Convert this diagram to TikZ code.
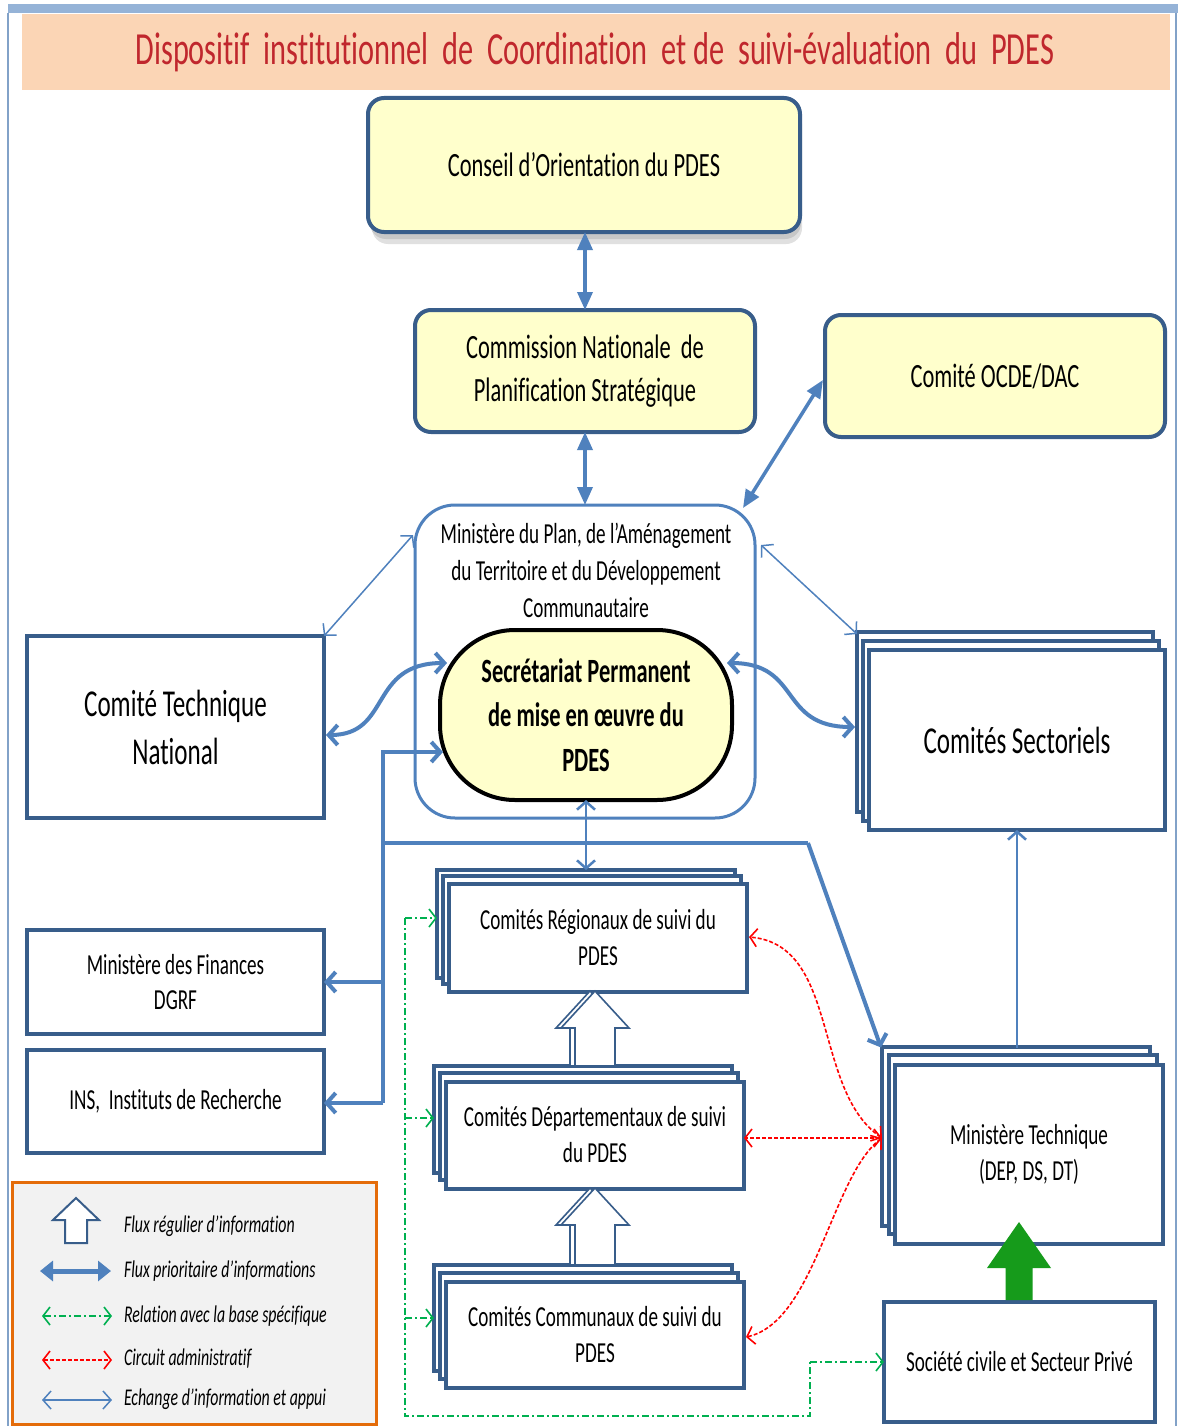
\documentclass[tikz,border=0pt]{standalone}
\usepackage{fontspec}
\setmainfont{Carlito}[FakeStretch=0.66, Ligatures={NoCommon}]
\usetikzlibrary{arrows.meta,calc}

\definecolor{dkblue}{HTML}{385D8A}
\definecolor{arblue}{HTML}{4F81BD}
\definecolor{ylw}{HTML}{FFFFCC}
\definecolor{peach}{HTML}{FBD5B5}
\definecolor{ttlred}{HTML}{C0272D}
\definecolor{lggray}{HTML}{F2F2F2}
\definecolor{lgorange}{HTML}{E46C0A}
\definecolor{grn}{HTML}{00B050}
\definecolor{grnblk}{HTML}{169B1B}
\definecolor{frameblue}{HTML}{95B3D7}

\newcommand\fsz[2]{\fontsize{#1pt}{#2pt}\selectfont}
% stacked back copies: cx, cy, w, h, dx, dy
\newcommand\stk[6]{%
  \filldraw[bkcopy] ({#1-#3/2+2*(#5)},{#2-#4/2+2*(#6)}) rectangle ++(#3,#4);
  \filldraw[bkcopy] ({#1-#3/2+(#5)},{#2-#4/2+(#6)}) rectangle ++(#3,#4);
}
% block arrow pointing up: style, apex x, apex y, head half width, head length, shaft half width, total length
\newcommand\blockup[7]{%
  \path[#1] (#2,#3) -- ++(#4,#5) -- ++({-(#4)+(#6)},0) -- ++(0,{(#7)-(#5)})
    -- ++({-2*(#6)},0) -- ++(0,{-(#7)+(#5)}) -- ++({-(#4)+(#6)},0) -- cycle;
}

\begin{document}
\begin{tikzpicture}[x=1pt,y=-1pt,
  every node/.style={inner sep=0pt, outer sep=0pt, align=center, text=black},
  ybox/.style={draw=dkblue, line width=4pt, fill=ylw, rounded corners=16pt},
  wbox/.style={draw=dkblue, line width=4pt, fill=white},
  bkcopy/.style={draw=dkblue, line width=4pt, fill=white},
  tri/.style={draw=arblue, line width=3.5pt, >={Triangle[length=18pt,width=15pt]}},
  prio/.style={draw=arblue, line width=4pt, line join=miter, >={Straight Barb[length=9pt,width=20pt]}},
  midarr/.style={draw=arblue, line width=2.5pt, >={Straight Barb[length=8pt,width=18pt]}},
  echg/.style={draw=arblue, line width=1.5pt, >={Straight Barb[length=8pt,width=18pt]}},
  redarr/.style={draw=red, line width=1.6pt, dash pattern=on 4pt off 2pt, >={Straight Barb[length=7pt,width=18pt]}},
  gdash/.style={draw=grn, line width=1.6pt, dash pattern=on 7pt off 3pt on 2pt off 3pt, >={Straight Barb[length=7pt,width=18pt]}},
  hollow/.style={draw=dkblue, fill=white, line width=1.6pt, line join=miter},
  legtxt/.style={anchor=west, font=\itshape\fsz{24}{28}}
]
\useasboundingbox (0,0) rectangle (1181,1426);
\fill[white] (0,0) rectangle (1181,1426);

% frame
\fill[frameblue] (8,4) rectangle (1178,13);
\draw[frameblue!80!dkblue, line width=1.2pt] (8,13) -- (8,1426);
\draw[frameblue!80!dkblue, line width=1.2pt] (1176,13) -- (1176,1426);
\fill[peach] (22,14) rectangle (1170,90);

% title
\node[font=\fsz{46}{50}, text=ttlred] (TT) at (595,52) {Dispositif\ \ institutionnel\ \ de\ \ Coordination\ \ et de\ \ suivi-évaluation\ \ du\ \ PDES};

% Conseil
\fill[black!12, rounded corners=16pt] (372,108) rectangle (802,244);
\fill[black!22, rounded corners=16pt] (370,104) rectangle (801,239);
\node[ybox, minimum width=432pt, minimum height=134pt, font=\fsz{34}{43}] (CO) at (584,165) {Conseil d’Orientation du PDES};

% Commission and OCDE
\node[ybox, minimum width=340pt, minimum height=122pt, font=\fsz{34}{43}] (CN) at (585,371) {Commission Nationale\ \ de\\Planification Stratégique};
\node[ybox, minimum width=340pt, minimum height=122pt, font=\fsz{34}{43}] (OC) at (995,376) {Comité OCDE/DAC};

% Ministère du Plan
\node[draw=arblue, line width=3pt, fill=white, rounded corners=40pt, minimum width=340pt, minimum height=313pt] (MP) at (585,661.5) {};
\node[font=\fsz{29}{37}] (MPt) at (586,570) {Ministère du Plan, de l’Aménagement\\du Territoire et du Développement\\Communautaire};

% Secretariat
\node[draw=black, line width=4pt, fill=ylw, rounded corners=75pt, minimum width=292pt, minimum height=170pt, font=\bfseries\fsz{34}{44.5}] (SP) at (586,715) {Secrétariat Permanent\\de mise en œuvre du\\PDES};

% Comité Technique National
\node[wbox, minimum width=297pt, minimum height=182pt, font=\fsz{38}{48}] (CT) at (175.5,727) {Comité Technique\\National};

% Comités Sectoriels
\stk{1017}{740}{296}{180}{-6}{-9}
\node[wbox, minimum width=296pt, minimum height=180pt, font=\fsz{38}{48}] (CS) at (1017,740) {Comités Sectoriels};

% Finances, INS
\node[wbox, minimum width=297pt, minimum height=104pt, font=\fsz{29}{35}] (MF) at (175.5,982) {Ministère des Finances\\DGRF};
\node[wbox, minimum width=297pt, minimum height=103pt, font=\fsz{29}{35}] (IN) at (175.5,1101.5) {INS,\ \ Instituts de Recherche};

% Comités Régionaux / Départementaux / Communaux
\stk{598}{936}{298}{108}{-6}{-6}
\node[wbox, minimum width=298pt, minimum height=108pt, font=\fsz{29}{36}] (CR) at (598,938) {Comités Régionaux de suivi du\\PDES};
\stk{595}{1133.5}{298}{107}{-6}{-7}
\node[wbox, minimum width=298pt, minimum height=107pt, font=\fsz{29}{36}] (CD) at (595,1135) {Comités Départementaux de suivi\\du PDES};
\stk{595}{1333}{298}{106}{-6}{-7.5}
\node[wbox, minimum width=298pt, minimum height=106pt, font=\fsz{29}{36}] (CC) at (595,1335) {Comités Communaux de suivi du\\PDES};

% Ministère Technique and Société civile
\stk{1029}{1152.5}{268}{179}{-6.5}{-8}
\node[wbox, minimum width=268pt, minimum height=179pt, font=\fsz{29}{36}] (MT) at (1029,1154) {Ministère Technique\\(DEP, DS, DT)};
\node[wbox, minimum width=271pt, minimum height=120pt, font=\fsz{29}{36}] (SC) at (1019.5,1362) {Société civile et Secteur Privé};

% hollow block arrows (regular flow)
\blockup{hollow}{590}{991}{34}{37}{20}{75}
\blockup{hollow}{595}{991}{34}{37}{20}{75}
\blockup{hollow}{590}{1188}{34}{37}{20}{77}
\blockup{hollow}{595}{1188}{34}{37}{20}{77}
% green block arrow
\blockup{fill=grnblk}{1019}{1222}{32}{46}{13.5}{78}

% connectors: top chain
\draw[tri,<->] (CN.north |- CO.south) -- (CN.north);
\draw[tri,<->] (CN.south) -- (MP.north);
\draw[tri,<->] ($(OC.west)+(-2,4)$) -- ($(MP.north east)+(-12,3)$);

% exchange (thin)
\draw[echg,<->] (CT.north east) -- ($(MP.north west)+(-2,30)$);
\draw[echg,<->] ($(MP.north east)+(6,40)$) -- ($(CS.north west)+(-12,-16)$);

% thick curves
\draw[prio,<->] ($(CT.east)+(2,8)$) .. controls (392,735) and (368,663) .. ($(SP.center)+(-139,-52)$);
\draw[prio,<->] ($(SP.center)+(141,-52)$) .. controls (802,663) and (778,727) .. ($(CS.west)+(-14,-13)$);

% network from the secretariat
\coordinate (j1) at (383,752);
\coordinate (j2) at (383,843);
\coordinate (j3) at (808,843);
\coordinate (j4) at (383,1103);
\draw[prio,->] (j4) -- (j1) -- ($(SP.center)+(-143,37)$);
\draw[prio,->] (j4) -- (IN.east |- j4);
\draw[prio,->] (j1 |- MF.east) -- (MF.east);
\draw[prio] (j2) -- (j3);
\draw[prio,->] (j3) -- ($(MT.north west)+(-14,-17)$);

% secretariat <-> regional
\draw[midarr,<->] (SP.south) -- ($(CR.north)+(-12,-14)$);
% ministere technique -> sectoriels
\coordinate (mttop) at ($(MT.north)+(-13,-17)$);
\draw[midarr,->] (CS.south |- mttop) -- (CS.south);

% administrative circuit (red)
\coordinate (mtl) at ($(MT.west)+(-13,-16)$);
\draw[redarr,<->] (mtl) .. controls (812,1090) and (840,945) .. ($(CR.east)+(2,-1)$);
\draw[redarr,<->] (mtl) -- (CD.east |- mtl);
\draw[redarr,<->] (mtl) .. controls (832,1175) and (815,1322) .. ($(CC.east)+(2,2)$);

% relation with base (green dash-dot)
\coordinate (g1) at (405,918);
\coordinate (g2) at (405,1416);
\coordinate (g3) at (810,1416);
\coordinate (g4) at (810,1362);
\coordinate (gr) at ($(CR.west)+(-12,-20)$);
\coordinate (gd) at ($(CD.west)+(-12,-17)$);
\coordinate (gc) at ($(CC.west)+(-12,-17)$);
\draw[gdash] (gr -| g1) -- (g2) -- (g3) -- (g4);
\draw[gdash,->] (gr -| g1) -- (gr);
\draw[gdash,->] (gd -| g1) -- (gd);
\draw[gdash,->] (gc -| g1) -- (gc);
\draw[gdash,->] (g4) -- (SC.west |- g4);

% legend
\node[draw=lgorange, fill=lggray, line width=3pt, minimum width=364pt, minimum height=242pt] (LG) at (194,1303) {};
\blockup{hollow, line width=2pt}{76}{1198}{23}{22}{11}{45}
\node[legtxt] (L1) at (124,1226) {Flux régulier d’information};
\coordinate (la2) at (40,1271);  \coordinate (lb2) at (111,1271);
\draw[draw=arblue, line width=5pt, >={Triangle[length=13pt,width=20pt]}, <->] (la2) -- (lb2);
\node[legtxt] (L2) at (124,1271) {Flux prioritaire d’informations};
\coordinate (la3) at (42,1316);  \coordinate (lb3) at (112,1316);
\draw[gdash,<->] (la3) -- (lb3);
\node[legtxt] (L3) at (124,1316) {Relation avec la base spécifique};
\coordinate (la4) at (42,1360);  \coordinate (lb4) at (112,1360);
\draw[redarr,<->] (la4) -- (lb4);
\node[legtxt] (L4) at (124,1359) {Circuit administratif};
\coordinate (la5) at (42,1400);  \coordinate (lb5) at (112,1400);
\draw[echg,<->] (la5) -- (lb5);
\node[legtxt] (L5) at (124,1399) {Echange d’information et appui};
\end{tikzpicture}
\end{document}
